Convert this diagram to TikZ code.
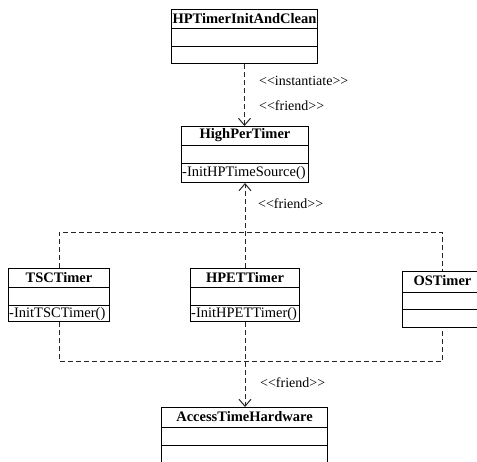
\documentclass[tikz,border=0pt]{standalone}
\usepackage{fontspec}
\setmainfont{Liberation Serif}
\usetikzlibrary{arrows.meta}
\newcommand\stlt{\textless\kern0pt\textless}
\newcommand\stgt{\textgreater\kern0pt\textgreater}
\begin{document}
\begin{tikzpicture}[x=1pt,y=-1pt,
  font=\fontsize{14.5}{16}\selectfont,
  classbox/.style={draw=black,line width=1pt,rectangle,anchor=north west,inner sep=0pt},
  ctitle/.style={font=\fontsize{14.5}{16}\selectfont\bfseries,inner sep=0pt},
  cmeth/.style={anchor=west,inner xsep=1pt,inner ysep=0pt},
  divider/.style={draw=black,line width=1pt},
  deplink/.style={draw=black!85,line width=1pt,dash pattern=on 5pt off 3pt},
  deparrow/.style={deplink,-{Straight Barb[length=7pt,width=12pt,line width=1pt]}},
  stereo/.style={anchor=west,inner sep=0pt,font=\fontsize{14}{16}\selectfont}]
\useasboundingbox (0,0) rectangle (477,461);
\clip (0,0) rectangle (477,461);

% HPTimerInitAndClean
\node[classbox,minimum width=146pt,minimum height=54pt] (hpi) at (171,9) {};
\node[ctitle] (hpit) at ([yshift=-9.5pt]hpi.north) {HPTimerInitAndClean};
\draw[divider] ([yshift=-19pt]hpi.north west) -- ([yshift=-19pt]hpi.north east);
\draw[divider] ([yshift=-37pt]hpi.north west) -- ([yshift=-37pt]hpi.north east);

% HighPerTimer
\node[classbox,minimum width=127pt,minimum height=56pt] (hpt) at (181,126) {};
\node[ctitle] (hptt) at ([yshift=-9.5pt]hpt.north) {HighPerTimer};
\draw[divider] ([yshift=-19pt]hpt.north west) -- ([yshift=-19pt]hpt.north east);
\draw[divider] ([yshift=-37pt]hpt.north west) -- ([yshift=-37pt]hpt.north east);
\node[cmeth] (hptm) at ([yshift=9.5pt]hpt.south west) {-InitHPTimeSource()};

% TSCTimer
\node[classbox,minimum width=101pt,minimum height=53pt] (tsc) at (8,268) {};
\node[ctitle] (tsct) at ([yshift=-9.5pt]tsc.north) {TSCTimer};
\draw[divider] ([yshift=-19pt]tsc.north west) -- ([yshift=-19pt]tsc.north east);
\draw[divider] ([yshift=-37pt]tsc.north west) -- ([yshift=-37pt]tsc.north east);
\node[cmeth] (tscm) at ([yshift=8pt]tsc.south west) {-InitTSCTimer()};

% HPETTimer
\node[classbox,minimum width=109pt,minimum height=53pt] (hpet) at (190,268) {};
\node[ctitle] (hpett) at ([yshift=-9.5pt]hpet.north) {HPETTimer};
\draw[divider] ([yshift=-19pt]hpet.north west) -- ([yshift=-19pt]hpet.north east);
\draw[divider] ([yshift=-37pt]hpet.north west) -- ([yshift=-37pt]hpet.north east);
\node[cmeth] (hpetm) at ([yshift=8pt]hpet.south west) {-InitHPETTimer()};

% OSTimer
\node[classbox,minimum width=80pt,minimum height=56pt] (os) at (402,271) {};
\node[ctitle] (ost) at ([yshift=-10pt]os.north) {OSTimer};
\draw[divider] ([yshift=-21pt]os.north west) -- ([yshift=-21pt]os.north east);
\draw[divider] ([yshift=-38pt]os.north west) -- ([yshift=-38pt]os.north east);

% AccessTimeHardware
\node[classbox,minimum width=166pt,minimum height=60pt] (ath) at (161,407) {};
\node[ctitle] (atht) at ([yshift=-10pt]ath.north) {AccessTimeHardware};
\draw[divider] ([yshift=-20pt]ath.north west) -- ([yshift=-20pt]ath.north east);
\draw[divider] ([yshift=-38pt]ath.north west) -- ([yshift=-38pt]ath.north east);

% connectors
\draw[deparrow] (hpi.south) -- (hpi.south |- hpt.north);
\draw[deparrow] (hpet.north) -- (hpet.north |- hpt.south);
\coordinate (jtop) at (250,232);
\coordinate (jbot) at (250,361);
\draw[deplink] (tsc.north) -- (tsc.north |- jtop) -- (os.north |- jtop) -- (os.north);
\draw[deplink] (tsc.south) -- (tsc.south |- jbot) -- (os.south |- jbot) -- (os.south);
\draw[deparrow] (hpet.south) -- (hpet.south |- ath.north);

% stereotypes
\node[stereo] (s1) at (259,81) {\stlt instantiate\stgt};
\node[stereo] (s2) at (259,106) {\stlt friend\stgt};
\node[stereo] (s3) at (258,204) {\stlt friend\stgt};
\node[stereo] (s4) at (260,383) {\stlt friend\stgt};
\end{tikzpicture}
\end{document}
